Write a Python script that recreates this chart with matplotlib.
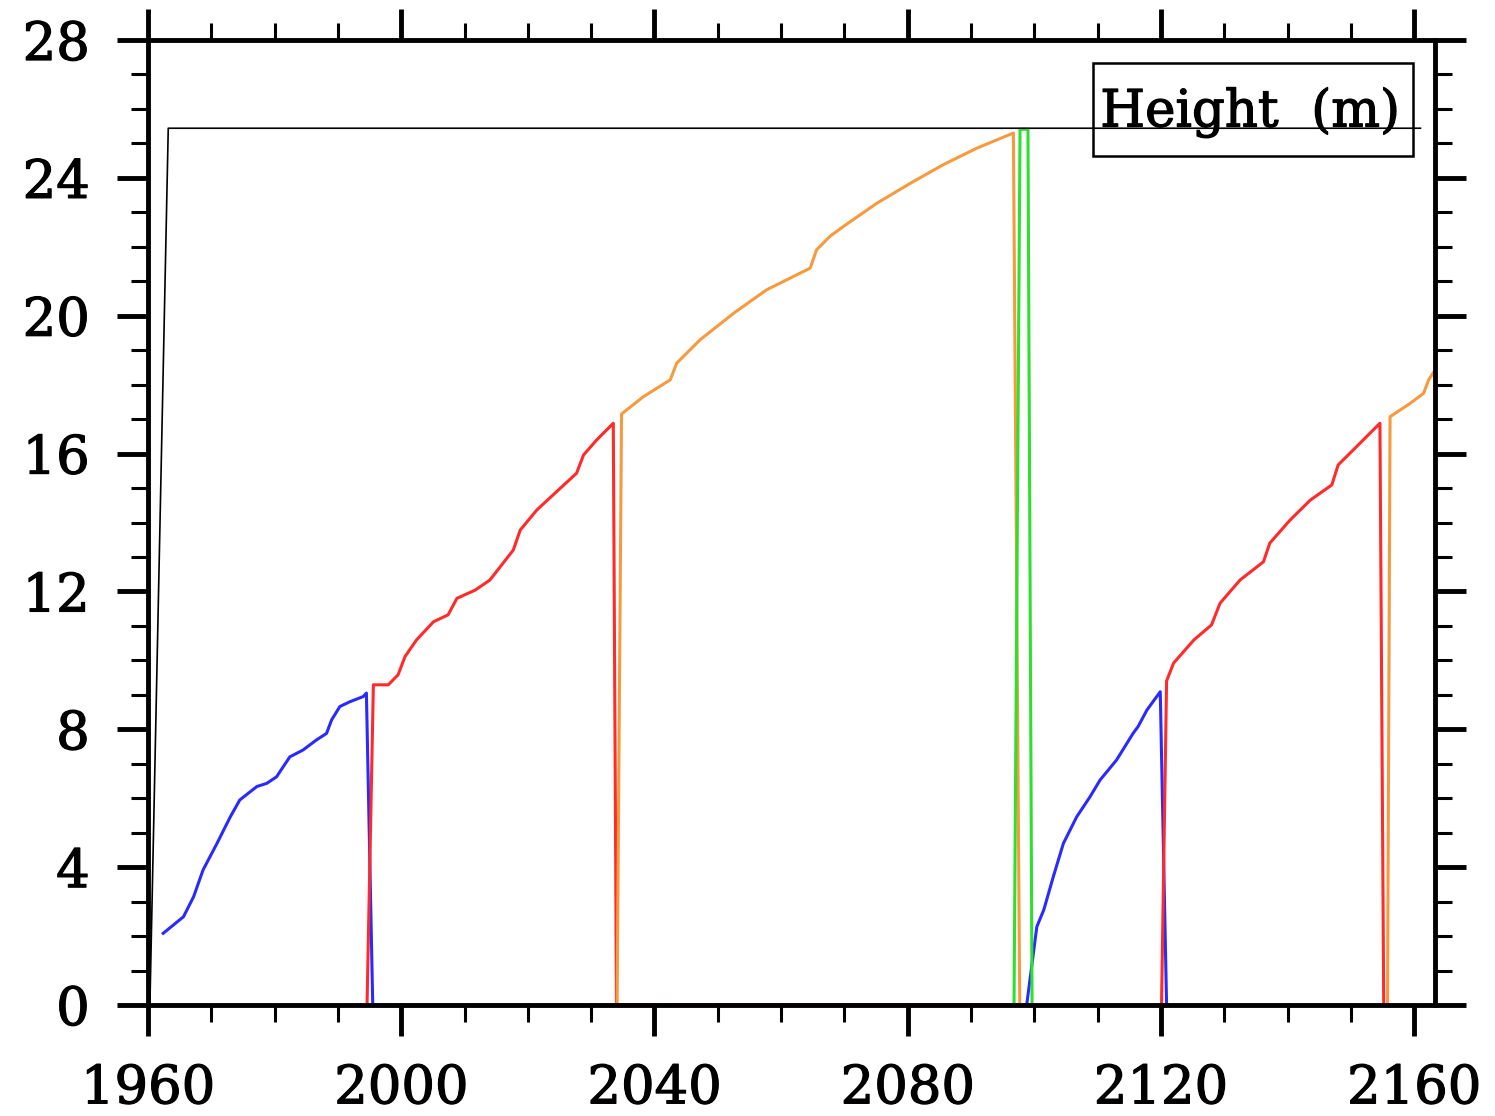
import matplotlib
matplotlib.use("Agg")
import matplotlib.pyplot as plt
import matplotlib.patheffects as pe
from matplotlib.patches import Rectangle
from matplotlib.ticker import MultipleLocator

# ---- data ----
black_years = [1960.3, 1963.2, 2161.0]
black_height = [0.0, 25.44, 25.44]

blue_years = [1962.4, 1965.6, 1967.2, 1968.7, 1970.9, 1973.0, 1974.5, 1977.2, 1978.75,
              1980.3, 1982.4, 1984.5, 1986.6, 1988.2, 1989.0, 1990.3, 1991.9, 1994.0,
              1994.5, 1995.5, 2098.8, 2100.4, 2101.5, 2103.0, 2104.6, 2106.7, 2108.8,
              2110.4, 2113.0, 2115.6, 2116.4, 2117.8, 2119.9, 2120.9]
blue_height = [2.08, 2.56, 3.14, 3.92, 4.69, 5.46, 5.95, 6.34, 6.43,
               6.62, 7.20, 7.40, 7.69, 7.88, 8.27, 8.66, 8.80, 8.95,
               9.05, 0.0, 0.0, 2.27, 2.76, 3.72, 4.69, 5.46, 6.04,
               6.53, 7.11, 7.88, 8.08, 8.56, 9.09, 0.0]

red_years = [1994.6, 1995.6, 1997.95, 1999.5, 2000.6, 2002.4, 2005.1, 2007.4, 2008.8,
             2011.7, 2014.0, 2017.7, 2018.8, 2021.4, 2025.1, 2027.7, 2028.8, 2030.9,
             2033.5, 2034.0, 2120.1, 2120.9, 2122.0, 2125.2, 2128.0, 2129.35, 2132.5,
             2136.2, 2137.2, 2140.4, 2143.6, 2147.0, 2148.0, 2150.9, 2154.6, 2155.2]
red_height = [0.0, 9.29, 9.29, 9.58, 10.11, 10.59, 11.12, 11.32, 11.80,
              12.04, 12.33, 13.20, 13.78, 14.36, 14.99, 15.43, 15.96, 16.40,
              16.88, 0.0, 0.0, 9.40, 9.92, 10.59, 11.03, 11.66, 12.33,
              12.86, 13.40, 14.07, 14.65, 15.09, 15.67, 16.20, 16.88, 0.0]

orange_years = [2034.1, 2034.8, 2038.25, 2042.5, 2043.5, 2047.2, 2052.5, 2057.7, 2064.6,
                2065.6, 2067.7, 2069.85, 2075.1, 2080.4, 2085.6, 2090.9, 2096.7, 2097.7,
                2155.8, 2156.2, 2159.4, 2161.5, 2162.3, 2163.0]
orange_height = [0.0, 17.15, 17.65, 18.14, 18.62, 19.30, 20.07, 20.75, 21.38,
                 21.91, 22.30, 22.59, 23.26, 23.84, 24.38, 24.86, 25.30, 0.0,
                 0.0, 17.07, 17.46, 17.75, 18.14, 18.34]

green_years = [2096.8, 2097.75, 2099.0, 2099.65]
green_height = [0.0, 25.41, 25.41, 0.0]

x_ticks = [1960, 2000, 2040, 2080, 2120, 2160]
y_ticks = [0, 4, 8, 12, 16, 20, 24, 28]
legend_text = "Height  (m)"

# ---- figure ----
fig = plt.figure(figsize=(14.95, 11.16), dpi=100)
ax = fig.add_axes([0.0990, 0.09946, 0.86087, 0.86470])

ax.plot(black_years, black_height, color="black", lw=1.2, zorder=3)
ax.plot(blue_years, blue_height, color="#2a2aff", lw=2.2, zorder=2)
ax.plot(red_years, red_height, color="#ff2a2a", lw=2.2, zorder=2)
ax.plot(orange_years, orange_height, color="#f79a3e", lw=2.2, zorder=2)
ax.plot(green_years, green_height, color="#2ee02e", lw=2.2, zorder=2)

ax.set_xlim(1960, 2163.3)
ax.set_ylim(0, 28)

ax.set_xticks(x_ticks)
ax.set_yticks(y_ticks)
ax.xaxis.set_minor_locator(MultipleLocator(10))
ax.yaxis.set_minor_locator(MultipleLocator(1))

for s in ax.spines.values():
    s.set_linewidth(3.5)

ax.tick_params(which="both", direction="out", top=True, right=True,
               labeltop=False, labelright=False)
ax.tick_params(which="major", length=22, width=3.5, pad=20)
ax.tick_params(which="minor", length=12, width=2.2)
bold = [pe.withStroke(linewidth=0.9, foreground="black")]
for lab in ax.get_xticklabels() + ax.get_yticklabels():
    lab.set_fontfamily("DejaVu Serif")
    lab.set_fontsize(38)
    lab.set_path_effects(bold)

ax.add_patch(Rectangle((0.7343, 0.8798), 0.2486, 0.0964, transform=ax.transAxes,
                       fill=False, edgecolor="black", lw=1.8, zorder=2.6))
ax.text(0.8563, 0.9104, legend_text, transform=ax.transAxes, ha="center",
        va="baseline", fontsize=37, family="DejaVu Serif", zorder=2.7,
        path_effects=bold)

fig.savefig("out.png", dpi=100)
